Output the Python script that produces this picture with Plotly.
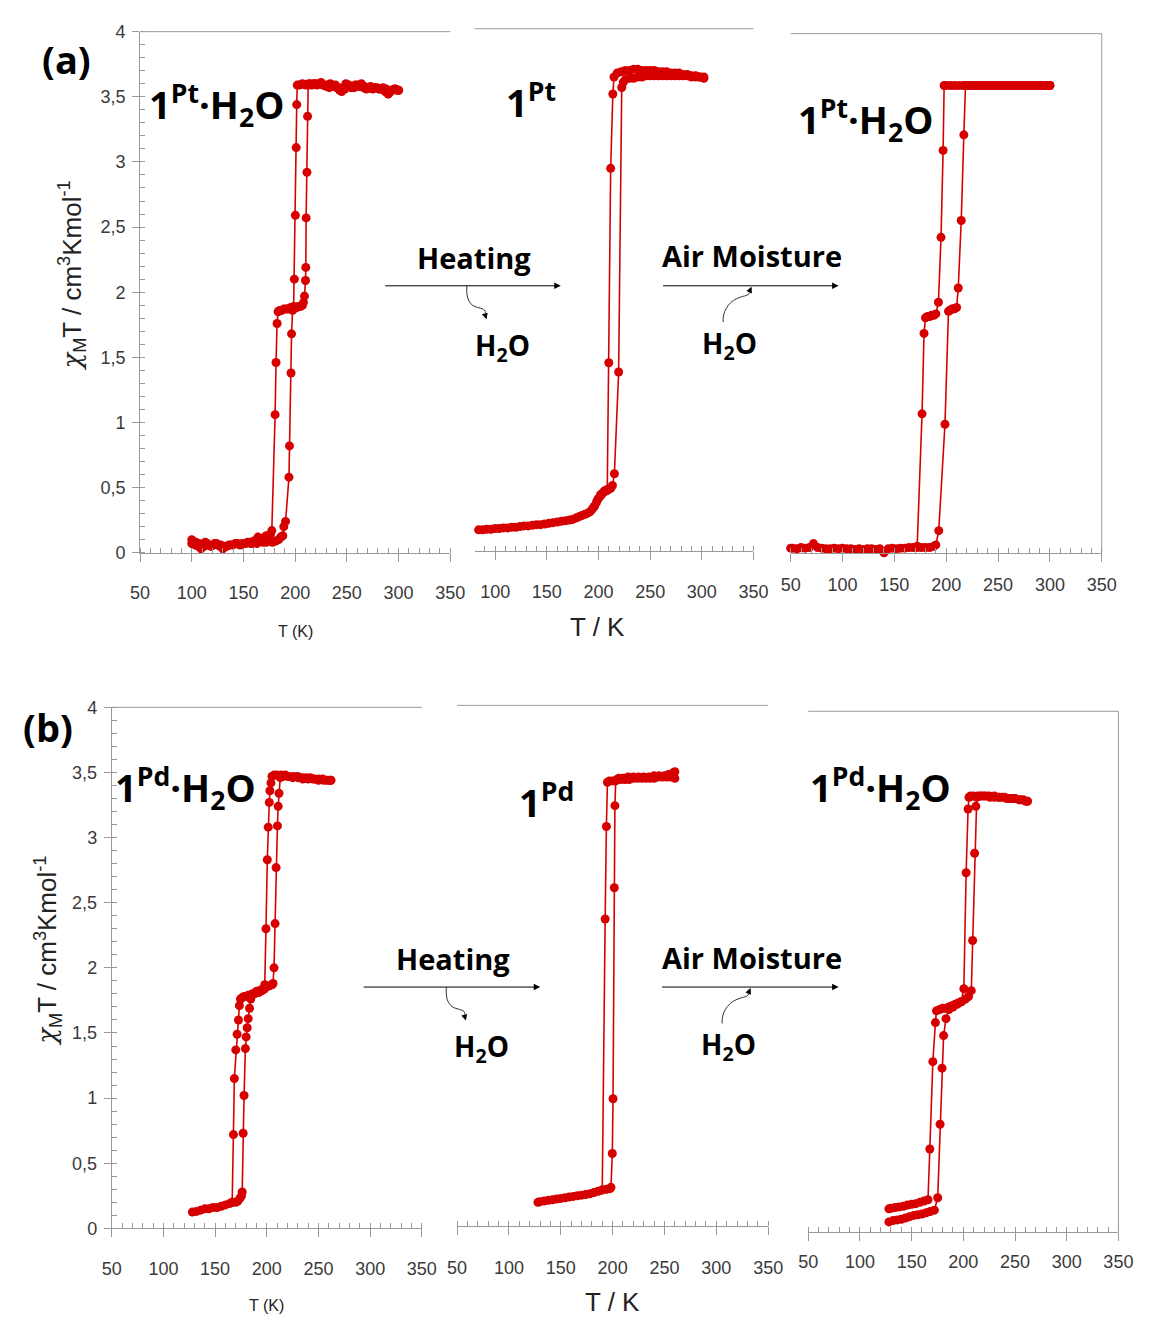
import plotly.graph_objects as go

# ---------------------------------------------------------------------------
# chi_M*T (cm^3 K mol^-1) versus T (K)
# ---------------------------------------------------------------------------

# (a) 1Pt.H2O, as synthesised
a1_cool_T = [300, 297, 294, 291, 288, 285, 282, 279, 276, 273, 270, 267, 264, 261, 258,
             255, 252, 249, 246, 243, 240, 237, 234, 231, 228, 225, 222, 219, 216, 213,
             210, 207, 204, 202, 201.5, 201, 200.2, 199.2, 198.5, 197, 195, 193, 191, 189,
             187, 185, 183.5, 182.5, 181.5, 180.6, 177.4, 176, 174, 172, 170, 168, 166,
             164, 162, 160, 158, 155, 152, 149, 146, 143, 140, 137, 134, 131, 128, 125,
             122, 119, 116, 113, 110, 107, 104, 101, 100]
a1_cool_chi = [3.55, 3.56, 3.55, 3.53, 3.56, 3.57, 3.56, 3.57, 3.57, 3.58, 3.57, 3.58, 3.60,
               3.58, 3.59, 3.58, 3.59, 3.60, 3.57, 3.55, 3.57, 3.58, 3.60, 3.59, 3.59, 3.61,
               3.60, 3.60, 3.59, 3.60, 3.59, 3.60, 3.59, 3.59, 3.44, 3.11, 2.59, 2.10, 1.89,
               1.88, 1.88, 1.87, 1.87, 1.87, 1.86, 1.86, 1.85, 1.76, 1.46, 1.06, 0.17, 0.14,
               0.12, 0.13, 0.10, 0.11, 0.09, 0.12, 0.08, 0.09, 0.07, 0.08, 0.07, 0.07, 0.06,
               0.07, 0.06, 0.06, 0.05, 0.04, 0.06, 0.06, 0.07, 0.05, 0.06, 0.08, 0.06, 0.07,
               0.08, 0.07, 0.10]
a1_heat_T = [100, 103, 106, 109, 112, 115, 118, 121, 124, 127, 130, 133, 136, 139, 142, 145,
             148, 151, 154, 157, 160, 163, 166, 169, 172, 175, 178, 181, 184, 186, 188, 189,
             190.7, 194, 194.5, 196, 196.5, 197.5, 199, 201, 203, 205, 207, 208, 209, 210,
             210.3, 210.6, 211.4, 212, 212.6, 215, 218, 221, 224, 227, 230, 233, 236, 239,
             242, 245, 248, 251, 254, 257, 260, 263, 266, 269, 272, 275, 278, 281, 284, 287,
             290, 293, 296, 299, 300]
a1_heat_chi = [0.07, 0.06, 0.05, 0.03, 0.05, 0.07, 0.05, 0.06, 0.07, 0.05, 0.03, 0.05, 0.06,
               0.06, 0.07, 0.07, 0.06, 0.07, 0.08, 0.07, 0.08, 0.07, 0.09, 0.08, 0.08, 0.09,
               0.08, 0.09, 0.10, 0.12, 0.13, 0.20, 0.24, 0.58, 0.82, 1.38, 1.68, 1.86, 1.88,
               1.88, 1.89, 1.89, 1.90, 1.92, 1.97, 2.09, 2.19, 2.57, 2.92, 3.35, 3.59, 3.60,
               3.60, 3.59, 3.60, 3.59, 3.58, 3.57, 3.58, 3.59, 3.57, 3.54, 3.56, 3.58, 3.57,
               3.57, 3.59, 3.58, 3.57, 3.56, 3.57, 3.56, 3.57, 3.56, 3.56, 3.54, 3.52, 3.55,
               3.56, 3.55, 3.55]

# (a) 1Pt, dehydrated
a2_cool_T = [302, 298, 294, 290, 286, 282, 278, 274, 270, 266, 262, 258, 254, 250, 246, 242,
             238, 234, 230, 226, 222, 218, 215, 213.9, 211.8, 210, 208.5, 206, 204, 202, 200,
             198, 196, 194, 192, 190, 187, 184, 181, 178, 175, 172, 168, 164, 160, 156, 152,
             148, 144, 140, 136, 132, 128, 124, 120, 116, 112, 108, 104, 100, 96, 92, 88, 84,
             80]
a2_cool_chi = [3.63, 3.63, 3.64, 3.64, 3.65, 3.65, 3.66, 3.66, 3.66, 3.67, 3.67, 3.67, 3.68,
               3.68, 3.68, 3.68, 3.69, 3.69, 3.68, 3.68, 3.67, 3.66, 3.63, 3.50, 2.93, 1.44,
               0.47, 0.46, 0.44, 0.42, 0.40, 0.37, 0.34, 0.32, 0.30, 0.29, 0.28, 0.27, 0.26,
               0.25, 0.24, 0.235, 0.23, 0.225, 0.22, 0.215, 0.21, 0.205, 0.20, 0.20, 0.195,
               0.19, 0.19, 0.185, 0.18, 0.18, 0.175, 0.175, 0.17, 0.17, 0.165, 0.165, 0.16,
               0.16, 0.16]
a2_heat_T = [196, 199, 202, 205, 208, 210, 212, 213.5, 215.4, 219.5, 222.5, 224, 226, 230,
             234, 238, 242, 246, 250, 254, 258, 262, 266, 270, 274, 278, 282, 286, 290, 294,
             298, 302]
a2_heat_chi = [0.34, 0.39, 0.43, 0.45, 0.46, 0.47, 0.48, 0.50, 0.59, 1.37, 3.55, 3.59, 3.61,
               3.62, 3.62, 3.63, 3.63, 3.64, 3.64, 3.64, 3.64, 3.64, 3.64, 3.64, 3.64, 3.64,
               3.64, 3.64, 3.63, 3.63, 3.63, 3.62]

# (a) 1Pt.H2O, rehydrated in air
a3_cool_T = [300, 296, 292, 288, 284, 280, 276, 272, 268, 264, 260, 256, 252, 248, 244, 240,
             236, 232, 228, 224, 220, 216, 212, 208, 204, 200, 198, 197, 195, 192.5, 190, 188,
             186, 184, 182, 180, 178.6, 176.7, 172, 168, 164, 160, 156, 152, 148, 144, 140,
             136, 132, 128, 124, 120, 116, 112, 108, 104, 100, 96, 92, 88, 84, 80, 76, 72, 68,
             64, 60, 56, 52, 50]
a3_cool_chi = [3.60, 3.60, 3.60, 3.60, 3.60, 3.60, 3.60, 3.60, 3.60, 3.60, 3.60, 3.60, 3.60,
               3.60, 3.60, 3.60, 3.60, 3.60, 3.60, 3.60, 3.60, 3.60, 3.60, 3.60, 3.60, 3.60,
               3.60, 3.10, 2.43, 1.93, 1.84, 1.83, 1.83, 1.82, 1.82, 1.81, 1.69, 1.07, 0.05,
               0.04, 0.04, 0.035, 0.035, 0.03, 0.035, 0.03, 0.0, 0.03, 0.025, 0.03, 0.03, 0.025,
               0.03, 0.025, 0.03, 0.03, 0.035, 0.03, 0.035, 0.03, 0.03, 0.035, 0.04, 0.07, 0.04,
               0.035, 0.04, 0.03, 0.035, 0.035]
a3_heat_T = [172, 176, 180, 184, 188, 190, 192.8, 198.8, 202.2, 204, 206, 208, 210, 211.6,
             214.5, 217, 218.6, 222, 226, 230, 234, 238, 242, 246, 250, 254, 258, 262, 266,
             270, 274, 278, 282, 286, 290, 294, 298, 300]
a3_heat_chi = [0.04, 0.04, 0.04, 0.04, 0.05, 0.06, 0.17, 0.99, 1.86, 1.87, 1.88, 1.88, 1.89,
               2.04, 2.56, 3.22, 3.60, 3.60, 3.60, 3.60, 3.60, 3.60, 3.60, 3.60, 3.60, 3.60,
               3.60, 3.60, 3.60, 3.60, 3.60, 3.60, 3.60, 3.60, 3.60, 3.60, 3.60, 3.60]

# (b) 1Pd.H2O, as synthesised
b1_cool_T = [262, 258, 254, 250, 246, 242, 238, 234, 230, 226, 222, 218, 214, 210, 207, 205,
             204, 203, 202.4, 201.4, 200.5, 199.2, 198, 196, 194, 192, 190, 188, 186, 184,
             182, 180, 178, 176, 174.5, 173.5, 172.6, 171.3, 170, 168.6, 167.7, 166.5, 164,
             160, 156, 152, 148, 144, 140, 136, 132, 128]
b1_cool_chi = [3.44, 3.44, 3.45, 3.45, 3.45, 3.46, 3.46, 3.46, 3.47, 3.47, 3.47, 3.48, 3.48,
               3.48, 3.48, 3.47, 3.42, 3.36, 3.27, 3.08, 2.83, 2.30, 1.87, 1.83, 1.82, 1.81,
               1.81, 1.80, 1.80, 1.79, 1.79, 1.78, 1.78, 1.77, 1.76, 1.71, 1.60, 1.49, 1.37,
               1.15, 0.72, 0.20, 0.19, 0.18, 0.17, 0.16, 0.16, 0.15, 0.15, 0.14, 0.13, 0.125]
b1_heat_T = [166.5, 170, 172, 174, 175.5, 176.2, 177.1, 178, 179.3, 180, 181, 182, 183.3,
             184.5, 186, 190, 194, 198, 202, 205, 206, 207, 208, 209, 210.3, 211, 211.8, 213,
             216, 220, 225, 230, 235, 240, 245, 250, 255, 260, 262]
b1_heat_chi = [0.20, 0.20, 0.21, 0.23, 0.25, 0.28, 0.73, 1.02, 1.38, 1.47, 1.54, 1.61, 1.69,
               1.76, 1.80, 1.82, 1.83, 1.84, 1.86, 1.87, 1.88, 2.00, 2.34, 2.77, 3.09, 3.24,
               3.34, 3.46, 3.47, 3.47, 3.46, 3.46, 3.45, 3.45, 3.45, 3.44, 3.44, 3.44, 3.44]

# (b) 1Pd, dehydrated
b2_cool_T = [260, 256, 252, 248, 244, 240, 236, 232, 228, 224, 220, 216, 212, 208, 204, 200,
             197, 195, 194, 192.8, 190, 186, 182, 178, 174, 170, 166, 162, 158, 154, 150,
             146, 142, 138, 134, 130, 128]
b2_cool_chi = [3.44, 3.45, 3.45, 3.45, 3.45, 3.44, 3.44, 3.44, 3.44, 3.44, 3.44, 3.43, 3.43,
               3.43, 3.43, 3.42, 3.42, 3.41, 3.07, 2.36, 0.28, 0.27, 0.26, 0.25, 0.245, 0.24,
               0.235, 0.23, 0.225, 0.22, 0.215, 0.21, 0.205, 0.20, 0.195, 0.19, 0.185]
b2_heat_T = [190, 194, 197.5, 198.4, 199.7, 200.4, 201.6, 202.2, 203, 206, 210, 215, 220,
             225, 230, 235, 240, 245, 250, 254, 258, 260]
b2_heat_chi = [0.28, 0.285, 0.29, 0.30, 0.56, 0.98, 2.60, 3.23, 3.42, 3.44, 3.44, 3.45, 3.45,
               3.45, 3.45, 3.45, 3.46, 3.46, 3.46, 3.47, 3.48, 3.49]

# (b) 1Pd.H2O, rehydrated in air
b3_cool_T = [262, 258, 254, 250, 246, 242, 238, 234, 230, 226, 222, 218, 214, 210, 207,
             205.5, 204.6, 202.7, 200.5, 198, 195, 192, 189, 186, 183, 180, 177, 174, 173,
             170.5, 167.6, 165.8, 162, 158, 154, 150, 146, 142, 138, 134, 130, 128]
b3_cool_chi = [3.31, 3.32, 3.32, 3.33, 3.33, 3.33, 3.34, 3.34, 3.34, 3.34, 3.35, 3.35, 3.35,
               3.35, 3.35, 3.34, 3.25, 2.76, 1.87, 1.77, 1.76, 1.75, 1.74, 1.73, 1.72, 1.72,
               1.71, 1.70, 1.61, 1.31, 0.64, 0.25, 0.24, 0.23, 0.22, 0.215, 0.21, 0.20, 0.195,
               0.19, 0.185, 0.18]
b3_heat_T = [128, 132, 136, 140, 144, 148, 152, 156, 160, 164, 168, 172, 175.2, 177.5, 179.4,
             180.9, 183.2, 186, 190, 194, 198, 202, 205, 207.7, 209, 210.9, 212.1, 213, 216,
             220, 225, 230, 235, 240, 245, 250, 255, 260, 262]
b3_heat_chi = [0.08, 0.09, 0.095, 0.10, 0.11, 0.12, 0.13, 0.135, 0.14, 0.15, 0.16, 0.17,
               0.265, 0.83, 1.26, 1.51, 1.64, 1.71, 1.73, 1.75, 1.77, 1.79, 1.81, 1.855, 2.24,
               2.91, 3.27, 3.34, 3.35, 3.35, 3.35, 3.35, 3.34, 3.34, 3.33, 3.33, 3.32, 3.31,
               3.31]

x_tick_vals = [50, 100, 150, 200, 250, 300, 350]
y_tick_vals = [0, 0.5, 1, 1.5, 2, 2.5, 3, 3.5, 4]
y_tick_text = ["0", "0,5", "1", "1,5", "2", "2,5", "3", "3,5", "4"]

labels_top = ["1<sup>Pt</sup>·H<sub>2</sub>O", "1<sup>Pt</sup>", "1<sup>Pt</sup>·H<sub>2</sub>O"]
labels_bot = ["1<sup>Pd</sup>·H<sub>2</sub>O", "1<sup>Pd</sup>", "1<sup>Pd</sup>·H<sub>2</sub>O"]
y_title = ('<span style="font-family:DejaVu Serif"><i>χ</i></span>'
           "<sub>M</sub>T / cm<sup>3</sup>Kmol<sup>-1</sup>")

# ---------------------------------------------------------------------------
W, H = 1151, 1328
RED = "#d60000"
GREY = "#9a9a9a"
TICKFONT = dict(family="Liberation Sans, Arial, sans-serif", size=18, color="#3a3a3a")
SANS = "Liberation Sans, Arial, sans-serif"
BOLD = "Open Sans, Noto Sans, sans-serif"


def fx(p):
    return p / W


def fy(p):
    return 1 - p / H


# panel frames in pixels: left, right, bottom (axis line), top, x range, label offset
panels = [
    dict(x0=133, x1=450, yb=551, yt=22, xr=[50, 350], yax=True, right=False, lab=36),
    dict(x0=475, x1=760, yb=549, yt=19, xr=[80.2, 350], yax=False, right=False, lab=37),
    dict(x0=798, x1=1116, yb=551, yt=24, xr=[50, 350], yax=False, right=True, lab=28),
    dict(x0=104, x1=421, yb=1237, yt=708, xr=[50, 350], yax=True, right=False, lab=36),
    dict(x0=457, x1=775, yb=1235, yt=706, xr=[50, 350], yax=False, right=False, lab=37),
    dict(x0=816, x1=1133, yb=1241, yt=712, xr=[50, 350], yax=False, right=True, lab=25),
]

series = [
    [(a1_cool_T, a1_cool_chi), (a1_heat_T, a1_heat_chi)],
    [(a2_cool_T, a2_cool_chi), (a2_heat_T, a2_heat_chi)],
    [(a3_cool_T, a3_cool_chi), (a3_heat_T, a3_heat_chi)],
    [(b1_cool_T, b1_cool_chi), (b1_heat_T, b1_heat_chi)],
    [(b2_cool_T, b2_cool_chi), (b2_heat_T, b2_heat_chi)],
    [(b3_cool_T, b3_cool_chi), (b3_heat_T, b3_heat_chi)],
]

fig = go.Figure()
shapes = []
layout_axes = {}

for i, (p, branches) in enumerate(zip(panels, series), start=1):
    sx = "" if i == 1 else str(i)
    for T, chi in branches:
        fig.add_trace(go.Scatter(
            x=T, y=chi, xaxis="x" + sx, yaxis="y" + sx, mode="lines+markers",
            line=dict(color=RED, width=1.6), marker=dict(color=RED, size=9),
            showlegend=False, hoverinfo="x+y", cliponaxis=False))

    layout_axes["xaxis" + sx] = dict(
        domain=[fx(p["x0"]), fx(p["x1"])], range=p["xr"], anchor="y" + sx,
        tickmode="array", tickvals=x_tick_vals, ticks="outside", ticklen=8,
        tickcolor=GREY, tickwidth=1, showline=True, linecolor=GREY, linewidth=1,
        showgrid=False, zeroline=False, tickfont=TICKFONT,
        ticklabelstandoff=p["lab"] - 20,
        minor=dict(dtick=10, tick0=0, ticks="inside", ticklen=5, tickcolor=GREY,
                   showgrid=False),
    )
    yax = dict(
        domain=[fy(p["yb"]), fy(p["yt"])], range=[0, 4], anchor="x" + sx,
        showgrid=False, zeroline=False,
    )
    if p["yax"]:
        yax.update(
            tickmode="array", tickvals=y_tick_vals, ticktext=y_tick_text,
            ticks="outside", ticklen=7, tickcolor=GREY, tickwidth=1,
            showline=True, linecolor=GREY, linewidth=1, tickfont=TICKFONT,
            ticklabelstandoff=3,
            minor=dict(dtick=0.1, tick0=0, ticks="inside", ticklen=5, tickcolor=GREY,
                       showgrid=False),
        )
    else:
        yax.update(visible=False)
    layout_axes["yaxis" + sx] = yax

    # frame lines along the top (and right side where present)
    shapes.append(dict(type="line", xref="paper", yref="paper",
                       x0=fx(p["x0"]), x1=fx(p["x1"]), y0=fy(p["yt"]), y1=fy(p["yt"]),
                       line=dict(color=GREY, width=1)))
    if p["right"]:
        shapes.append(dict(type="line", xref="paper", yref="paper",
                           x0=fx(p["x1"]), x1=fx(p["x1"]), y0=fy(p["yt"]), y1=fy(p["yb"]),
                           line=dict(color=GREY, width=1)))

annotations = []


def text(x, y, s, size, family=BOLD, color="black", xanchor="center", angle=0):
    annotations.append(dict(x=fx(x), y=fy(y), xref="paper", yref="paper", text=s,
                            showarrow=False, xanchor=xanchor, yanchor="middle",
                            textangle=angle,
                            font=dict(family=family, size=size, color=color)))


# panel letters
text(58, 50, "<b>(a)</b>", 38)
text(39, 728, "<b>(b)</b>", 38)

# compound labels
for (x, y), s in zip([(140, 96), (505, 92), (803, 112)], labels_top):
    text(x, y, "<b>" + s + "</b>", 38, xanchor="left")
for (x, y), s in zip([(105, 790), (518, 803), (816, 790)], labels_bot):
    text(x, y, "<b>" + s + "</b>", 38, xanchor="left")

# axis titles
text(63, 270, y_title, 26, family=SANS, color="#222", angle=-90)
text(38, 955, y_title, 26, family=SANS, color="#222", angle=-90)
text(292, 631, "T (K)", 16, family=SANS, color="#222")
text(262, 1315, "T (K)", 16, family=SANS, color="#222")
text(601, 626, "T / K", 26, family=SANS, color="#222")
text(616, 1312, "T / K", 26, family=SANS, color="#222")


def process(x0, x1, y, word, word_y, squiggle_x, mode):
    """Horizontal reaction arrow with a curved H2O arrow (released or taken up)."""
    annotations.append(dict(x=fx(x1), y=fy(y), xref="paper", yref="paper",
                            ax=-(x1 - x0), ay=0, axref="pixel", ayref="pixel",
                            showarrow=True, arrowhead=2, arrowsize=1.3, arrowwidth=1,
                            arrowcolor="black", text=""))
    text((x0 + x1) / 2, word_y, "<b>" + word + "</b>", 29)
    if mode == "out":
        sx, sy = squiggle_x, y
        tx, ty = squiggle_x + 20, y + 34
        path = (f"M {fx(sx)},{fy(sy)} C {fx(sx - 1)},{fy(sy + 14)} {fx(sx + 3)},{fy(sy + 20)} "
                f"{fx(sx + 11)},{fy(sy + 22)} S {fx(tx - 1)},{fy(ty - 9)} {fx(tx - 1)},{fy(ty - 6)}")
        shapes.append(dict(type="path", xref="paper", yref="paper", path=path,
                           line=dict(color="#333", width=1)))
        annotations.append(dict(x=fx(tx), y=fy(ty), xref="paper", yref="paper",
                                ax=-2, ay=-7, axref="pixel", ayref="pixel", showarrow=True,
                                arrowhead=2, arrowsize=1.2, arrowwidth=1, arrowcolor="black",
                                text=""))
        text(sx + 36, y + 62, "<b>H<sub>2</sub>O</b>", 28)
    else:
        sx, sy = squiggle_x, y + 37
        tx, ty = squiggle_x + 29, y + 1
        path = (f"M {fx(sx)},{fy(sy)} C {fx(sx - 1)},{fy(sy - 10)} {fx(sx + 5)},{fy(sy - 20)} "
                f"{fx(sx + 14)},{fy(sy - 24)} S {fx(tx - 4)},{fy(ty + 10)} {fx(tx - 2)},{fy(ty + 6)}")
        shapes.append(dict(type="path", xref="paper", yref="paper", path=path,
                           line=dict(color="#333", width=1)))
        annotations.append(dict(x=fx(tx), y=fy(ty), xref="paper", yref="paper",
                                ax=-3, ay=7, axref="pixel", ayref="pixel", showarrow=True,
                                arrowhead=2, arrowsize=1.2, arrowwidth=1, arrowcolor="black",
                                text=""))
        text(sx + 6, y + 60, "<b>H<sub>2</sub>O</b>", 28)


process(386, 563, 280, "Heating", 251, 467, "out")
process(670, 847, 280, "Air Moisture", 249, 729, "in")
process(364, 542, 992, "Heating", 963, 446, "out")
process(669, 847, 992, "Air Moisture", 962, 728, "in")

fig.update_layout(
    width=W, height=H, margin=dict(l=0, r=0, t=0, b=0),
    paper_bgcolor="white", plot_bgcolor="rgba(0,0,0,0)",
    shapes=shapes, annotations=annotations, showlegend=False,
    **layout_axes,
)

fig.write_html("out.html")
